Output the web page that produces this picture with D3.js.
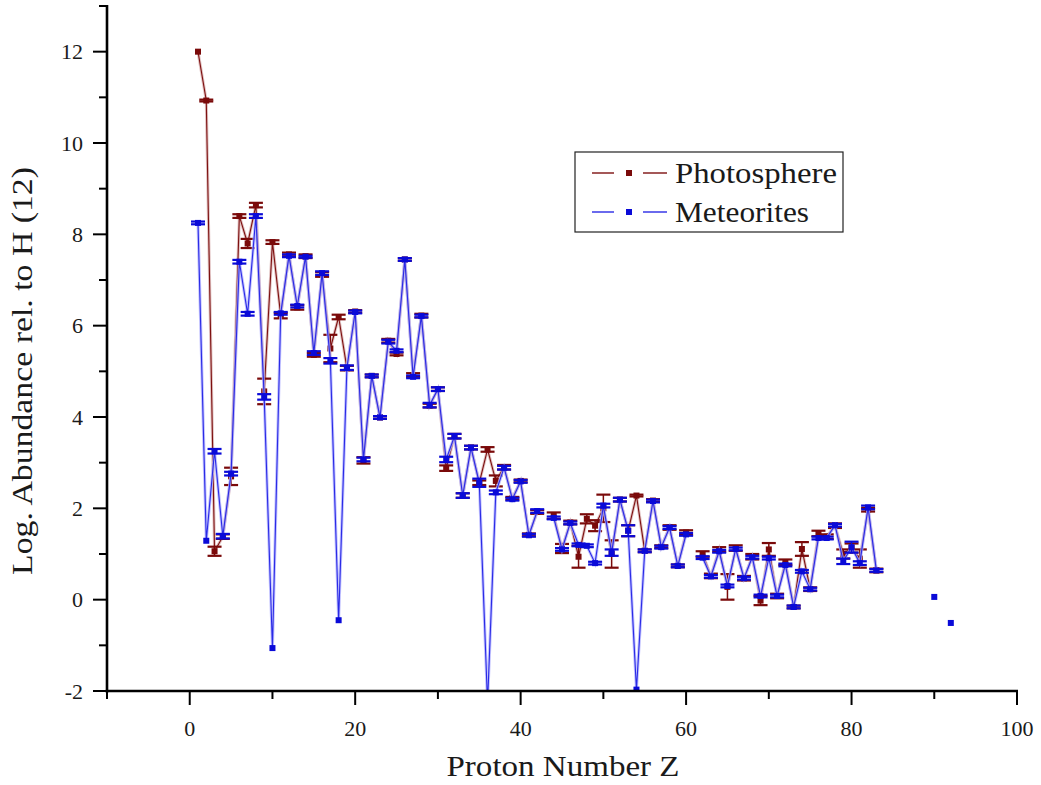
<!DOCTYPE html>
<html>
<head>
<meta charset="utf-8">
<script src="https://cdn.jsdelivr.net/npm/d3@7"></script>
<style>
  html, body { margin: 0; padding: 0; background: #ffffff; }
  svg { display: block; }
  text { font-family: "Liberation Serif", Tinos, "Times New Roman", Times, serif; fill: #1a1a1a; }
</style>
</head>
<body>
<svg id="chart" width="1041" height="785"></svg>
<script>
// Solar system abundances, log N with log N(H) = 12, indexed by proton number Z = 1..92
const protonNumbers = d3.range(1, 93);

const photosphere = [
  12.00, 10.93, 1.06, 1.38, 2.70, 8.40, 7.80, 8.64, 4.56, 7.83,
  6.22, 7.56, 6.40, 7.52, 5.36, 7.12, 5.50, 6.19, 5.07, 6.31,
  3.05, 4.90, 3.99, 5.67, 5.38, 7.45, 4.92, 6.22, 4.25, 4.61,
  2.88, 3.58, 2.28, 3.33, 2.56, 3.29, 2.60, 2.90, 2.22, 2.60,
  1.42, 1.92, null, 1.84, 1.12, 1.69, 0.94, 1.77, 1.62, 2.00,
  1.00, 2.19, 1.51, 2.28, 1.07, 2.17, 1.16, 1.58, 0.74, 1.47,
  null, 1.00, 0.52, 1.10, 0.28, 1.13, 0.47, 0.94, -0.02, 1.10,
  0.08, 0.82, -0.16, 1.11, 0.23, 1.45, 1.38, 1.62, 1.00, 1.13,
  0.90, 1.97, 0.64, null, null, null, null, null, null, null,
  null, null
];

const photosphereErr = [
  0, 0.02, 0.10, 0.05, 0.19, 0.04, 0.10, 0.05, 0.28, 0.04,
  0.06, 0.04, 0.05, 0.04, 0.04, 0.05, 0.30, 0.05, 0.05, 0.03,
  0.07, 0.03, 0.03, 0.04, 0.03, 0.03, 0.04, 0.04, 0.04, 0.04,
  0.06, 0.05, 0.05, 0.04, 0.05, 0.05, 0.12, 0.05, 0.03, 0.03,
  0.03, 0.04, null, 0.07, 0.10, 0.04, 0.24, 0.10, 0.12, 0.30,
  0.30, 0.04, 0.12, 0.02, 0.03, 0.03, 0.03, 0.05, 0.03, 0.05,
  null, 0.06, 0.05, 0.05, 0.28, 0.06, 0.05, 0.06, 0.10, 0.14,
  0.05, 0.06, 0.03, 0.15, 0.04, 0.06, 0.05, 0.05, 0.10, 0.10,
  0.20, 0.04, 0.04, null, null, null, null, null, null, null,
  null, null
];

const meteorites = [
  8.25, 1.29, 3.25, 1.39, 2.76, 7.40, 6.26, 8.40, 4.44, -1.06,
  6.27, 7.53, 6.43, 7.51, 5.40, 7.15, 5.23, -0.45, 5.08, 6.30,
  3.07, 4.90, 3.99, 5.65, 5.45, 7.45, 4.88, 6.21, 4.26, 4.61,
  3.07, 3.58, 2.28, 3.33, 2.56, -2.27, 2.35, 2.89, 2.20, 2.59,
  1.41, 1.94, null, 1.79, 1.10, 1.68, 1.20, 1.18, 0.80, 2.06,
  1.03, 2.19, 1.51, -1.97, 1.07, 2.16, 1.15, 1.58, 0.74, 1.43,
  null, 0.92, 0.51, 1.06, 0.30, 1.11, 0.47, 0.93, 0.08, 0.91,
  0.08, 0.76, -0.16, 0.62, 0.23, 1.35, 1.35, 1.63, 0.84, 1.15,
  0.80, 2.02, 0.64, null, null, null, null, null, null, 0.06,
  null, -0.51
];

const meteoritesErr = [
  0.03, 0, 0.05, 0.05, 0.04, 0.04, 0.04, 0.04, 0.06, 0,
  0.03, 0.03, 0.03, 0.02, 0.04, 0.04, 0.06, 0, 0.05, 0.03,
  0.04, 0.03, 0.03, 0.04, 0.03, 0.03, 0.03, 0.03, 0.05, 0.04,
  0.06, 0.05, 0.05, 0.04, 0.09, 0, 0.04, 0.04, 0.03, 0.03,
  0.03, 0.04, null, 0.03, 0.03, 0.03, 0.03, 0.03, 0.03, 0.04,
  0.07, 0.04, 0.12, 0, 0.03, 0.03, 0.03, 0.03, 0.03, 0.03,
  null, 0.03, 0.03, 0.03, 0.03, 0.03, 0.03, 0.03, 0.03, 0.03,
  0.03, 0.03, 0.03, 0.03, 0.03, 0.03, 0.03, 0.03, 0.06, 0.12,
  0.04, 0.04, 0.03, null, null, null, null, null, null, 0,
  null, 0
];

const xTicksMajor = [0, 20, 40, 60, 80, 100];
const xTicksMinor = [-10, 10, 30, 50, 70, 90];
const yTicksMajor = [-2, 0, 2, 4, 6, 8, 10, 12];
const yTicksMinor = [-1, 1, 3, 5, 7, 9, 11, 13];

const seriesNames = ["Photosphere", "Meteorites"];

const svg = d3.select("#chart");

const x = d3.scaleLinear().domain([-10, 100]).range([107, 1017]);
const y = d3.scaleLinear().domain([-2, 13]).range([691, 6]);

const series = [
  { name: seriesNames[0], values: photosphere, errs: photosphereErr,
    core: "#7d1010", halo: "#d9b3b3", marker: "#7a0a0a" },
  { name: seriesNames[1], values: meteorites, errs: meteoritesErr,
    core: "#2a2ae6", halo: "#b3b3ff", marker: "#0a0ad8" }
].map(s => ({
  ...s,
  points: protonNumbers.map((z, i) => ({ z, v: s.values[i], e: s.errs[i] }))
}));

svg.append("defs").append("clipPath").attr("id", "plotClip")
  .append("rect")
  .attr("x", x(-10)).attr("y", y(13) - 2)
  .attr("width", x(100) - x(-10) + 4).attr("height", y(-2) - y(13) + 2);

const plot = svg.append("g").attr("clip-path", "url(#plotClip)");

const line = d3.line()
  .defined(d => d.v !== null)
  .x(d => x(d.z))
  .y(d => y(d.v));

series.forEach(s => {
  const g = plot.append("g");
  // connecting line: soft halo under a thin core
  g.append("path").datum(s.points)
    .attr("d", line).attr("fill", "none")
    .attr("stroke", s.halo).attr("stroke-width", 3).attr("opacity", 0.8);
  g.append("path").datum(s.points)
    .attr("d", line).attr("fill", "none")
    .attr("stroke", s.core).attr("stroke-width", 1.1);

  const withErr = s.points.filter(d => d.v !== null && d.e > 0);
  // error bars
  g.selectAll("line.bar").data(withErr).join("line")
    .attr("x1", d => x(d.z)).attr("x2", d => x(d.z))
    .attr("y1", d => y(d.v - d.e)).attr("y2", d => y(d.v + d.e))
    .attr("stroke", s.marker).attr("stroke-width", 1.5);
  const caps = withErr.flatMap(d => [
    { z: d.z, v: d.v + d.e }, { z: d.z, v: d.v - d.e }
  ]);
  g.selectAll("line.cap").data(caps).join("line")
    .attr("x1", d => x(d.z) - 7).attr("x2", d => x(d.z) + 7)
    .attr("y1", d => y(d.v)).attr("y2", d => y(d.v))
    .attr("stroke", s.marker).attr("stroke-width", 2.2);

  // square symbols
  g.selectAll("rect.sym").data(s.points.filter(d => d.v !== null)).join("rect")
    .attr("x", d => x(d.z) - 3).attr("y", d => y(d.v) - 3)
    .attr("width", 6).attr("height", 6)
    .attr("fill", s.marker);
});

// axes
const axes = svg.append("g");
axes.append("line")
  .attr("x1", x(-10)).attr("x2", x(-10))
  .attr("y1", y(13) - 1).attr("y2", y(-2) + 1.5)
  .attr("stroke", "#000").attr("stroke-width", 2.6);
axes.append("line")
  .attr("x1", x(-10) - 1.3).attr("x2", x(100) + 1)
  .attr("y1", y(-2)).attr("y2", y(-2))
  .attr("stroke", "#000").attr("stroke-width", 2.6);

axes.selectAll("line.xmaj").data(xTicksMajor).join("line")
  .attr("x1", d => x(d)).attr("x2", d => x(d))
  .attr("y1", y(-2)).attr("y2", y(-2) + 14)
  .attr("stroke", "#000").attr("stroke-width", 2);
axes.selectAll("line.xmin").data(xTicksMinor).join("line")
  .attr("x1", d => x(d)).attr("x2", d => x(d))
  .attr("y1", y(-2)).attr("y2", y(-2) + 8)
  .attr("stroke", "#000").attr("stroke-width", 2);
axes.selectAll("line.ymaj").data(yTicksMajor).join("line")
  .attr("x1", x(-10) - 14).attr("x2", x(-10))
  .attr("y1", d => y(d)).attr("y2", d => y(d))
  .attr("stroke", "#000").attr("stroke-width", 2);
axes.selectAll("line.ymin").data(yTicksMinor).join("line")
  .attr("x1", x(-10) - 8).attr("x2", x(-10))
  .attr("y1", d => y(d)).attr("y2", d => y(d))
  .attr("stroke", "#000").attr("stroke-width", 2);

axes.selectAll("text.xl").data(xTicksMajor).join("text")
  .attr("x", d => x(d)).attr("y", 736)
  .attr("text-anchor", "middle").attr("font-size", 22)
  .text(d => d);
axes.selectAll("text.yl").data(yTicksMajor).join("text")
  .attr("x", 83).attr("y", d => y(d) + 7.5)
  .attr("text-anchor", "end").attr("font-size", 22)
  .text(d => d);

svg.append("text")
  .attr("x", 563).attr("y", 776)
  .attr("text-anchor", "middle").attr("font-size", 30)
  .attr("textLength", 233).attr("lengthAdjust", "spacingAndGlyphs")
  .text("Proton Number Z");
svg.append("text")
  .attr("transform", "translate(32,371) rotate(-90)")
  .attr("text-anchor", "middle").attr("font-size", 30)
  .attr("textLength", 408).attr("lengthAdjust", "spacingAndGlyphs")
  .text("Log. Abundance rel. to H (12)");

// legend
const legend = svg.append("g");
legend.append("rect")
  .attr("x", 575).attr("y", 152).attr("width", 268).attr("height", 80)
  .attr("fill", "#fff").attr("stroke", "#222").attr("stroke-width", 1.2);
const legendWidths = [162, 134];
series.forEach((s, i) => {
  const cy = 173 + i * 39;
  legend.append("line").attr("x1", 592).attr("x2", 614).attr("y1", cy).attr("y2", cy)
    .attr("stroke", s.core).attr("stroke-width", 1.4);
  legend.append("line").attr("x1", 643).attr("x2", 667).attr("y1", cy).attr("y2", cy)
    .attr("stroke", s.core).attr("stroke-width", 1.4);
  legend.append("rect").attr("x", 626).attr("y", cy - 3).attr("width", 6).attr("height", 6)
    .attr("fill", s.marker);
  legend.append("text").attr("x", 675).attr("y", cy + 10)
    .attr("font-size", 29)
    .attr("textLength", legendWidths[i]).attr("lengthAdjust", "spacingAndGlyphs")
    .text(s.name);
});
</script>
</body>
</html>
